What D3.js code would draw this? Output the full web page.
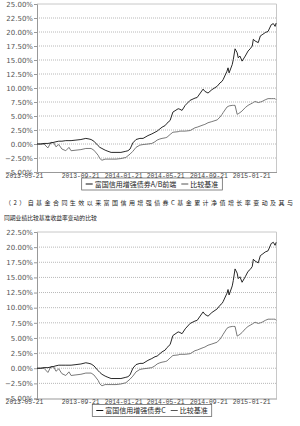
<!DOCTYPE html>
<html>
  <head>
    <meta charset="utf-8">
    <title>富国信用增强债券 净值增长率比较</title>
    <script src="https://d3js.org/d3.v7.min.js"></script>
    <style>
      body { margin: 0; background: #fff; }
    </style>
  </head>
  <body>
    <script>
    // data
    var dates = ["2013-05-21","2013-06-01","2013-06-10","2013-06-21","2013-06-30","2013-07-08","2013-07-14","2013-07-22","2013-07-31","2013-08-11",
      "2013-08-20","2013-08-26","2013-09-09","2013-09-23","2013-10-07","2013-10-16","2013-10-22","2013-10-30","2013-11-11","2013-11-16",
      "2013-11-22","2013-12-01","2013-12-09","2013-12-18","2014-01-01","2014-01-15","2014-01-29","2014-02-04","2014-02-10","2014-02-18",
      "2014-02-27","2014-03-10","2014-03-19","2014-04-02","2014-04-13","2014-04-22","2014-04-28","2014-05-06","2014-05-12","2014-05-21",
      "2014-05-26","2014-06-04","2014-06-12","2014-06-27","2014-07-02","2014-07-08","2014-07-17","2014-07-31","2014-08-14","2014-08-20",
      "2014-09-06","2014-09-11","2014-09-20","2014-10-01","2014-10-16","2014-10-24","2014-10-30","2014-11-02","2014-11-13","2014-11-16",
      "2014-11-19","2014-11-28","2014-12-01","2014-12-06","2014-12-12","2014-12-15","2014-12-20","2014-12-26","2015-01-04","2015-01-12",
      "2015-01-18","2015-01-24","2015-01-27","2015-02-01","2015-02-10","2015-02-16","2015-02-21","2015-03-02","2015-03-10","2015-03-19",
      "2015-03-25","2015-03-30","2015-04-02"]

    var fundAB = [0,0,0.1,0.1,0.2,0.3,0.4,0.5,0.5,0.6,
      0.6,0.6,0.7,0.8,1.0,0.9,0.8,0.5,-0.3,-0.6,
      -0.8,-1.1,-1.3,-1.5,-1.5,-1.5,-1.3,-1.2,-0.9,0.2,
      0.8,1.0,1.0,1.5,1.8,2.1,2.3,2.7,3.0,3.3,
      3.7,4.2,5.7,6.3,6.2,6.0,6.9,7.8,8.2,8.3,
      9.8,9.4,9.1,9.7,10.3,10.9,11.2,11.5,13.0,13.6,
      12.7,14.2,15.1,17.0,16.3,15.4,15.7,14.8,15.7,16.6,
      17.0,17.5,18.7,18.4,18.1,19.3,19.5,19.9,20.1,21.3,
      21.5,21.0,21.6]

    var fundC = [0,0,0.1,0.1,0.2,0.3,0.4,0.5,0.5,0.5,
      0.5,0.5,0.6,0.7,0.9,0.8,0.7,0.4,-0.4,-0.7,
      -1.0,-1.3,-1.5,-1.7,-1.7,-1.7,-1.5,-1.4,-1.1,0.0,
      0.6,0.8,0.8,1.3,1.6,1.9,2.0,2.4,2.7,3.0,
      3.4,3.9,5.4,6.0,5.9,5.7,6.5,7.4,7.8,7.9,
      9.3,8.9,8.6,9.2,9.8,10.4,10.7,11.0,12.4,13.0,
      12.1,13.6,14.5,16.4,15.7,14.8,15.1,14.2,15.1,16.0,
      16.3,16.8,18.0,17.7,17.4,18.6,18.8,19.2,19.4,20.6,
      20.8,20.3,20.8]

    var bench = [0,0,0,-0.7,0.3,0.2,-0.5,-0.1,-0.9,-1.2,
      -0.6,-1.2,-1.1,-1.0,-0.8,-0.8,-0.8,-1.1,-2.0,-2.6,
      -2.9,-2.7,-2.7,-2.7,-2.7,-2.6,-2.4,-2.1,-1.8,-1.3,
      -0.6,-0.2,-0.1,0.0,0.1,0.4,0.7,0.9,1.0,1.1,
      1.2,1.7,2.1,2.2,2.3,2.3,2.3,2.4,2.9,3.0,
      3.4,3.5,3.8,4.0,4.3,4.8,5.3,5.6,6.6,6.7,
      6.8,6.9,6.9,6.9,5.3,5.4,5.6,5.9,6.5,6.9,
      7.1,7.3,7.4,7.6,7.4,7.5,7.6,7.9,8.1,8.1,
      8.1,8.1,7.9]

    var tickDates = ["2013-05-21","2013-09-21","2014-01-21","2014-05-21","2014-09-21","2015-01-21"]
    var legendNames1 = ["富国信用增强债券A/B前端", "比较基准"]
    var legendNames2 = ["富国信用增强债券C", "比较基准"]
    var noteLines = ["（2）自基金合同生效以来富国信用增强债券C基金累计净值增长率变动及其与",
                     "同期业绩比较基准收益率变动的比较"]

    var width = 300
        height = 426

    var parse = d3.timeParse("%Y-%m-%d")
    var pct = d3.format(".2f")

    var svg = d3.select("body").append("svg")
                .attr("width", width)
                .attr("height", height)

    var x = d3.scaleTime()
              .domain([parse("2013-05-21"), parse("2015-04-03")])
              .range([37, 276.5])

    function drawChart(top, bottom, yMax, fund, names) {
      var y = d3.scaleLinear()
                .domain([-5, yMax])
                .range([bottom, top])

      var ticks = d3.range(-5, yMax + 0.1, 2.5)
      var g = svg.append("g")

      // dotted gridlines
      g.selectAll(".grid")
        .data(ticks.filter(function(t) { return t > -5 && t < yMax }))
        .enter().append("line")
        .attr("x1", x.range()[0]).attr("x2", x.range()[1])
        .attr("y1", function(d) { return y(d) }).attr("y2", function(d) { return y(d) })
        .attr("stroke", "#b8b8b8")
        .attr("stroke-dasharray", "1,1")

      // top & right frame
      g.append("path")
        .attr("d", "M" + x.range()[0] + "," + y(yMax) + "H" + x.range()[1] + "V" + y(-5))
        .attr("fill", "none")
        .attr("stroke", "#c8c8c8")

      var yAxis = d3.axisLeft(y)
                    .tickValues(ticks)
                    .tickSize(3)
                    .tickFormat(function(d) { return pct(d) + "%" })
      var ya = g.append("g")
        .attr("transform", "translate(" + x.range()[0] + ",0)")
        .call(yAxis)
      ya.select(".domain").attr("stroke", "#999")
      ya.selectAll(".tick line").attr("stroke", "#999")
      ya.selectAll("text")
        .attr("font-family", "DejaVu Sans")
        .attr("font-size", "7px")
        .attr("fill", "#555")
        .attr("x", -4)

      var xAxis = d3.axisBottom(x)
                    .tickValues(tickDates.map(parse))
                    .tickSize(0)
                    .tickFormat(d3.timeFormat("%Y-%m-%d"))
      var xa = g.append("g")
        .attr("transform", "translate(0," + y(-5) + ")")
        .call(xAxis)
      xa.select(".domain").attr("stroke", "#999")
      xa.selectAll("text")
        .attr("font-family", "Liberation Mono")
        .attr("font-size", "6.3px")
        .attr("fill", "#444")
        .attr("y", 1.5)
        .attr("dx", function(d, i) { return i == 0 ? -13 : 0 })

      var line = d3.line()
                   .x(function(d, i) { return x(parse(dates[i])) })
                   .y(function(d) { return y(d) })

      g.append("path")
        .attr("d", line(bench))
        .attr("fill", "none")
        .attr("stroke", "#6a6a6a")
        .attr("stroke-width", 0.9)

      g.append("path")
        .attr("d", line(fund))
        .attr("fill", "none")
        .attr("stroke", "#111")
        .attr("stroke-width", 0.9)

      // legend box under the axis
      var lg = g.append("g")
      var colors = ["#111", "#555"]
      var cx = 4
      names.forEach(function(n, i) {
        lg.append("line")
          .attr("x1", cx).attr("x2", cx + 7)
          .attr("y1", 0).attr("y2", 0)
          .attr("stroke", colors[i])
        var t = lg.append("text")
          .attr("x", cx + 9)
          .attr("y", 2.5)
          .attr("font-family", "Noto Sans CJK SC")
          .attr("font-size", "7px")
          .attr("fill", "#222")
          .text(n)
        cx += 9 + t.node().getComputedTextLength() + 5
      })
      var lw = cx - 1
      var ly = bottom + 12
      lg.insert("rect", ":first-child")
        .attr("x", 0).attr("y", -6)
        .attr("width", lw).attr("height", 12)
        .attr("fill", "#fff")
        .attr("stroke", "#555")
        .attr("stroke-width", 0.7)
      lg.attr("transform", "translate(" + (152 - lw / 2) + "," + ly + ")")
    }

    drawChart(4, 172, 25, fundAB, legendNames1)

    svg.append("text")
      .attr("x", 5).attr("y", 205)
      .attr("font-family", "Noto Sans CJK SC")
      .attr("font-size", "6px")
      .attr("fill", "#222")
      .attr("textLength", 288)
      .attr("lengthAdjust", "spacing")
      .text(noteLines[0])
    svg.append("text")
      .attr("x", 4).attr("y", 220)
      .attr("font-family", "Noto Sans CJK SC")
      .attr("font-size", "5.8px")
      .attr("fill", "#222")
      .text(noteLines[1])

    drawChart(232, 398.5, 22.5, fundC, legendNames2)
    </script>
  </body>
</html>
